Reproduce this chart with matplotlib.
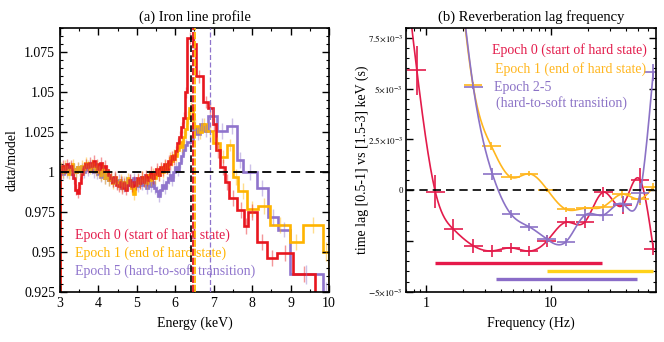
import numpy as np
import matplotlib
matplotlib.use('Agg')
import matplotlib.pyplot as plt
from matplotlib.ticker import MultipleLocator, FixedLocator, NullFormatter, FixedFormatter

plt.rcParams['font.family'] = 'serif'
plt.rcParams['font.serif'] = ['Liberation Serif', 'DejaVu Serif']
plt.rcParams['mathtext.fontset'] = 'stix'

# ---------------- (a) iron line profile: data/model ratio ----------------
fine_lo, fine_step = 3.0, 0.05

red_fine = [1.001, 1.004, 1.002, 1.005, 1.003, 1.004, 0.999, 0.996, 0.989, 0.987,
            0.993, 0.999, 1.003, 1.005, 1.003, 1.006, 1.004, 1.007, 1.004, 1.005,
            1.002, 1.006, 1.003, 1.004, 1.001, 0.998, 0.996, 0.994, 0.997, 0.992,
            0.991, 0.994, 0.990, 0.993, 0.989, 0.992, 0.995, 0.991, 0.994, 0.992,
            0.996, 0.993, 0.997, 0.994, 0.998, 0.995, 0.997, 1.000, 0.996, 0.999,
            1.002, 0.998, 1.003, 1.001, 1.005, 1.002, 1.007, 1.005, 1.010, 1.008,
            1.013, 1.018, 1.022, 1.028, 1.034, 1.050]
red_coarse_edges = [6.30, 6.46, 6.54, 6.72, 6.86, 6.97, 7.05, 7.16, 7.30, 7.40, 7.60,
                    7.80, 7.90, 8.12, 8.38, 8.65, 9.07, 9.64, 10.0]
red_coarse = [1.084, 1.080, 1.060, 1.044, 1.040, 1.030, 1.014, 1.003, 0.994, 0.984,
              0.976, 0.966, 0.975, 0.956, 0.946, 0.949, 0.936, 0.915]
red_coarse_err = [0.004, 0.004, 0.004, 0.004, 0.004, 0.004, 0.005, 0.005, 0.005, 0.005,
                  0.005, 0.005, 0.005, 0.005, 0.005, 0.005, 0.005, 0.006]

yel_fine = [1.003, 1.000, 1.004, 1.001, 0.999, 1.003, 1.005, 1.002, 1.000, 1.003,
            1.001, 1.004, 1.002, 1.006, 1.004, 1.002, 1.005, 1.003, 1.001, 1.004,
            1.000, 0.998, 1.002, 0.996, 0.999, 0.995, 0.997, 0.993, 0.996, 0.994,
            0.992, 0.995, 0.991, 0.994, 0.992, 0.996, 0.993, 0.990, 0.986, 0.992,
            0.995, 0.993, 0.997, 0.994, 0.996, 0.993, 0.998, 0.995, 0.999, 0.996,
            1.000, 0.998, 1.002, 1.000, 1.004, 1.002, 1.006, 1.009, 1.007, 1.011,
            1.010, 1.014, 1.019, 1.016, 1.022, 1.027]
yel_coarse_edges = [6.30, 6.36, 6.47, 6.58, 6.70, 6.80, 6.99, 7.16, 7.34, 7.50, 7.64,
                    7.86, 8.16, 8.46, 8.98, 9.33, 9.85, 10.0]
yel_coarse = [1.034, 1.040, 1.029, 1.025, 1.030, 1.026, 1.018, 1.0096, 1.017, 0.997,
              0.988, 0.977, 0.979, 0.967, 0.956, 0.967, 0.950]
yel_coarse_err = [0.004, 0.004, 0.004, 0.004, 0.004, 0.004, 0.004, 0.004, 0.004, 0.005,
                  0.005, 0.005, 0.005, 0.005, 0.005, 0.005, 0.006]

pur_fine = [1.002, 0.999, 1.002, 1.000, 1.003, 1.001, 0.999, 1.002, 1.000, 1.003,
            1.001, 1.002, 1.000, 1.003, 1.001, 1.004, 1.002, 1.000, 1.003, 0.999,
            1.001, 0.997, 1.000, 0.996, 0.998, 0.995, 0.997, 0.994, 0.996, 0.993,
            0.995, 0.992, 0.994, 0.991, 0.994, 0.992, 0.995, 0.993, 0.996, 0.993,
            0.991, 0.994, 0.992, 0.995, 0.993, 0.990, 0.993, 0.991, 0.994, 0.990,
            0.988, 0.985, 0.989, 0.992, 0.990, 0.994, 0.996, 0.998, 0.995, 1.000,
            1.003, 1.001, 1.006, 1.010, 1.014, 1.017]
pur_coarse_edges = [6.30, 6.45, 6.55, 6.65, 6.75, 6.86, 7.08, 7.34, 7.60, 7.77, 8.12,
                    8.42, 8.68, 8.98, 9.85, 10.0]
pur_coarse = [1.019, 1.028, 1.024, 1.030, 1.026, 1.035, 1.026, 1.029, 1.0075, 1.000,
              0.990, 0.972, 0.964, 0.936, 0.925]
pur_coarse_err = [0.004, 0.004, 0.004, 0.004, 0.004, 0.005, 0.005, 0.005, 0.005, 0.005,
                  0.005, 0.005, 0.005, 0.006, 0.006]
fine_err = 0.0035

line_energies = [6.40, 6.47, 6.51, 6.90]

# ---------------- (b) lag-frequency spectra (seconds) ----------------
red_f = [0.60, 0.847, 1.19, 1.66, 2.40, 3.41, 4.81, 6.70, 9.29, 13.2, 18.8, 26.4, 37.7, 51.8, 66.2]
red_lag = [14.0, 5.91, -0.07, -1.92, -2.74, -2.99, -2.84, -3.00, -2.51, -1.58, -1.55,
           -0.10, -0.73, 0.51, -2.90]
red_lag_err = [1.2, 1.2, 0.8, 0.52, 0.35, 0.30, 0.25, 0.25, 0.30, 0.25, 0.30, 0.25, 0.45, 0.60, 0.30]

yel_f = [1.70, 2.38, 3.33, 4.79, 6.70, 9.40, 13.2, 18.8, 26.4, 37.0, 51.8, 66.0]
yel_lag = [13.0, 5.20, 2.19, 0.64, 0.81, 0.01, -0.94, -0.89, -0.81, -0.20, -0.43, 0.15]
yel_lag_err = [0.2, 0.15, 0.20, 0.15, 0.12, 0.10, 0.12, 0.12, 0.12, 0.20, 0.30, 0.20]

pur_f = [1.70, 2.40, 3.41, 4.81, 6.70, 9.29, 13.2, 18.8, 26.4, 37.7, 51.8, 66.0]
pur_lag = [13.0, 5.06, 0.79, -1.19, -1.80, -2.41, -2.54, -1.22, -1.22, -0.68, -0.15, 5.80]
pur_lag_err = [0.2, 0.10, 0.30, 0.20, 0.20, 0.20, 0.20, 0.30, 0.30, 0.40, 0.50, 0.40]

# frequency ranges used for each epoch (Hz) and their lag level
ranges = {'red': (1.19, 25.6, -3.61), 'yel': (9.4, 65.5, -4.0), 'pur': (3.67, 48.8, -4.39)}

c_red, c_yel, c_pur = '#e8161e', '#ffb400', '#8f74cc'
c_red2, c_yel2, c_pur2 = '#e31b4b', '#ffb61e', '#8b72c6'


def natural_spline(x, y, xs):
    x = np.asarray(x, float); y = np.asarray(y, float)
    n = len(x); h = np.diff(x)
    A = np.zeros((n, n)); b = np.zeros(n)
    A[0, 0] = A[-1, -1] = 1
    for i in range(1, n - 1):
        A[i, i - 1] = h[i - 1]; A[i, i] = 2 * (h[i - 1] + h[i]); A[i, i + 1] = h[i]
        b[i] = 3 * ((y[i + 1] - y[i]) / h[i] - (y[i] - y[i - 1]) / h[i - 1])
    c = np.linalg.solve(A, b)
    idx = np.clip(np.searchsorted(x, xs) - 1, 0, n - 2)
    dx = xs - x[idx]
    bb = (y[idx + 1] - y[idx]) / h[idx] - h[idx] * (2 * c[idx] + c[idx + 1]) / 3
    d = (c[idx + 1] - c[idx]) / (3 * h[idx])
    return y[idx] + bb * dx + c[idx] * dx ** 2 + d * dx ** 3


fig = plt.figure(figsize=(6.64, 3.42), dpi=100)
ax1 = fig.add_axes([0.0904, 0.147, 0.405, 0.772])
ax2 = fig.add_axes([0.611, 0.147, 0.377, 0.772])

# ---- panel (a)
series = [(pur_fine, pur_coarse_edges, pur_coarse, pur_coarse_err, c_pur),
          (yel_fine, yel_coarse_edges, yel_coarse, yel_coarse_err, c_yel),
          (red_fine, red_coarse_edges, red_coarse, red_coarse_err, c_red)]
for fine, cedges, cvals, cerr, col in series:
    edges = np.concatenate([fine_lo + fine_step * np.arange(len(fine)), cedges])
    vals = np.concatenate([fine, cvals])
    errs = np.concatenate([np.full(len(fine), fine_err), cerr])
    mids = 0.5 * (edges[:-1] + edges[1:])
    ax1.errorbar(mids, vals, yerr=errs, fmt='none', ecolor=col, alpha=0.45, lw=1.0)
    ax1.stairs(vals, edges, color=col, lw=1.9)

ax1.axhline(1.0, color='black', ls=(0, (5, 3)), lw=1.3, zorder=5)
ax1.axvline(line_energies[0], color='black', ls=(0, (4, 2)), lw=1.2, zorder=4)
ax1.axvline(line_energies[1], color=c_red, ls=(0, (4, 1)), lw=1.3, zorder=4)
ax1.axvline(line_energies[2], color=c_yel, ls=(0, (4, 1)), lw=1.3, zorder=4)
ax1.axvline(line_energies[3], color=c_pur, ls=(0, (4, 2)), lw=0.9, zorder=4)

ax1.set_xlim(3, 10)
ax1.set_ylim(0.925, 1.0905)
ax1.xaxis.set_major_locator(MultipleLocator(1))
ax1.xaxis.set_minor_locator(MultipleLocator(0.5))
ax1.yaxis.set_major_locator(FixedLocator([0.925, 0.95, 0.975, 1.0, 1.025, 1.05, 1.075]))
ax1.yaxis.set_major_formatter(FixedFormatter(['0.925', '0.95', '0.975', '1', '1.025', '1.05', '1.075']))
ax1.yaxis.set_minor_locator(MultipleLocator(0.005))
ax1.set_xlabel('Energy (keV)', fontsize=10)
ax1.set_ylabel('data/model', fontsize=10)
ax1.xaxis.set_label_coords(0.5, -0.095)
ax1.yaxis.set_label_coords(-0.156, 0.5)
ax1.set_title('(a) Iron line profile', fontsize=10.5, y=0.995)

for txt, col, yy in [('Epoch 0 (start of hard state)', c_red2, 0.215),
                     ('Epoch 1 (end of hard state)', c_yel, 0.148),
                     ('Epoch 5 (hard-to-soft transition)', c_pur, 0.078)]:
    ax1.text(0.056, yy, txt, color=col, fontsize=10, transform=ax1.transAxes, va='center')

# ---- panel (b)
for f, lag, err, col in [(red_f, red_lag, red_lag_err, c_red2),
                         (yel_f, yel_lag, yel_lag_err, c_yel2),
                         (pur_f, pur_lag, pur_lag_err, c_pur2)]:
    lf = np.log10(f)
    xs = np.linspace(lf[0], lf[-1], 600)
    ys = natural_spline(lf, np.array(lag) * 1e-3, xs)
    ax2.plot(10 ** xs, ys, color=col, lw=1.2)
    f = np.array(f)
    xerr = [f - f / 10 ** 0.075, f * 10 ** 0.075 - f]
    ax2.errorbar(f, np.array(lag) * 1e-3, yerr=np.array(err) * 1e-3, xerr=xerr,
                 fmt='none', ecolor=col, lw=1.2)

for key, col in [('red', '#e5194a'), ('yel', '#ffd21a'), ('pur', '#8a6cc8')]:
    lo, hi, lev = ranges[key]
    ax2.plot([lo, hi], [lev * 1e-3, lev * 1e-3], color=col, lw=2.4, solid_capstyle='butt')

ax2.axhline(0, color='black', ls=(0, (5, 3)), lw=1.2, zorder=5)
ax2.set_xscale('log')
ax2.set_xlim(0.69, 69.5)
ax2.set_ylim(-5e-3, 8e-3)
ax2.set_xticks([1, 10])
ax2.set_xticklabels(['1', '10'])
ax2.yaxis.set_major_locator(FixedLocator([-5e-3, -2.5e-3, 0, 2.5e-3, 5e-3, 7.5e-3]))
ax2.yaxis.set_major_formatter(FixedFormatter([r'$-5{\times}10^{-3}$', '', '0',
                                              r'$2.5{\times}10^{-3}$', r'$5{\times}10^{-3}$',
                                              r'$7.5{\times}10^{-3}$']))
ax2.yaxis.set_minor_locator(MultipleLocator(0.5e-3))
ax2.set_xlabel('Frequency (Hz)', fontsize=10)
ax2.set_ylabel('time lag [0.5-1] vs [1.5-3] keV (s)', fontsize=10)
ax2.xaxis.set_label_coords(0.5, -0.095)
ax2.yaxis.set_label_coords(-0.147, 0.5)
ax2.set_title('(b) Reverberation lag frequency', fontsize=10.5, y=0.995)

for txt, col, xx, yy in [('Epoch 0 (start of hard state)', c_red2, 0.345, 0.915),
                         ('Epoch 1 (end of hard state)', c_yel2, 0.358, 0.843),
                         ('Epoch 2-5', c_pur2, 0.354, 0.774),
                         ('(hard-to-soft transition)', c_pur2, 0.362, 0.716)]:
    ax2.text(xx, yy, txt, color=col, fontsize=10, transform=ax2.transAxes, va='center')

for ax in (ax1, ax2):
    ax.tick_params(which='both', direction='in', top=True, right=True)
    ax.tick_params(which='major', length=5, width=1.0)
    ax.tick_params(which='minor', length=2.5, width=0.8)
    for sp in ax.spines.values():
        sp.set_linewidth(1.2)
ax1.tick_params(axis='both', which='major', labelsize=10)
ax2.tick_params(axis='x', which='major', labelsize=10)
ax2.tick_params(axis='y', which='major', labelsize=6.5, pad=2)
ax2.xaxis.set_minor_formatter(NullFormatter())

fig.savefig('out.png', dpi=100)
